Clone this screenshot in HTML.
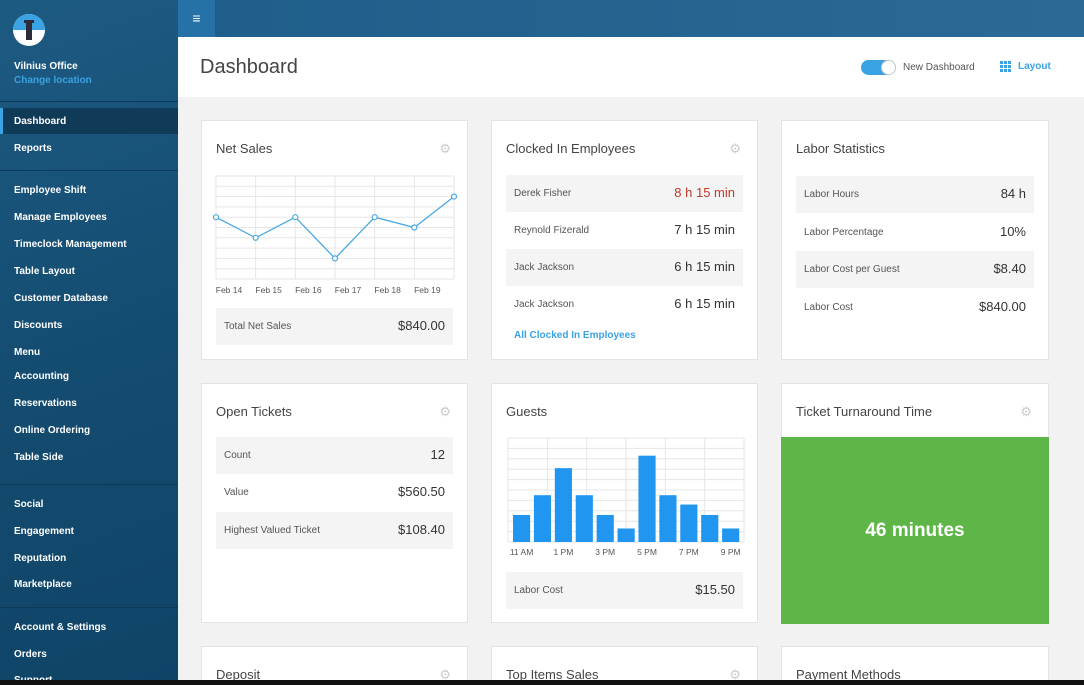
<!DOCTYPE html>
<html><head><meta charset="utf-8"><style>
*{margin:0;padding:0;box-sizing:border-box}
html,body{width:1084px;height:685px;overflow:hidden}
body{position:relative;font-family:"Liberation Sans",sans-serif;background:#f2f2f2}
.abs{position:absolute}
#side{left:0;top:0;width:178px;height:685px;background:linear-gradient(160deg,#1d5a82,#134a6e 60%,#0f4467)}
.nav{position:absolute;left:14px;font-size:10px;font-weight:bold;color:#fff;line-height:12px}
.div{position:absolute;left:0;width:178px;height:1px;background:#0d3a59}
.card{position:absolute;background:#fff;border:1px solid #e3e3e3}
.ct{position:absolute;left:14px;top:20px;font-size:13px;color:#444}
.gear{position:absolute;right:16px;top:20px;font-size:13px;color:#ccc}
.row{position:absolute;left:14px;right:14px;height:37px;font-size:10px;color:#555}
.row.g{background:#f4f4f4}
.row .l{position:absolute;left:8px;top:13px}
.row .r{position:absolute;right:8px;top:10px;font-size:13px;color:#333}
</style></head><body>
<div id="side" class="abs">
 <svg class="abs" style="left:13px;top:14px" width="32" height="32"><circle cx="16" cy="16" r="16" fill="#fff"/><path d="M0 16A16 16 0 0 1 32 16Z" fill="#3aa3e3"/><rect x="13" y="8" width="6" height="18" fill="#2b2b3a"/><rect x="11" y="6" width="10" height="3" fill="#2b2b3a"/></svg>
 <div class="nav" style="top:61px">Vilnius Office</div>
 <div class="nav" style="top:75px;color:#3aa3e3">Change location</div>
 <div class="div" style="top:101px"></div>
 <div class="abs" style="left:0;top:108px;width:178px;height:26px;background:#0f3a58"></div>
 <div class="abs" style="left:0;top:108px;width:3px;height:26px;background:#3aa3e3"></div>
 <div class="nav" style="top:116px">Dashboard</div>
 <div class="nav" style="top:143px">Reports</div>
 <div class="div" style="top:170px"></div>
 <div class="nav" style="top:185px">Employee Shift</div>
 <div class="nav" style="top:212px">Manage Employees</div>
 <div class="nav" style="top:239px">Timeclock Management</div>
 <div class="nav" style="top:266px">Table Layout</div>
 <div class="nav" style="top:293px">Customer Database</div>
 <div class="nav" style="top:320px">Discounts</div>
 <div class="nav" style="top:347px">Menu</div>
 <div class="nav" style="top:371px">Accounting</div>
 <div class="nav" style="top:398px">Reservations</div>
 <div class="nav" style="top:425px">Online Ordering</div>
 <div class="nav" style="top:452px">Table Side</div>
 <div class="div" style="top:484px"></div>
 <div class="nav" style="top:499px">Social</div>
 <div class="nav" style="top:526px">Engagement</div>
 <div class="nav" style="top:553px">Reputation</div>
 <div class="nav" style="top:579px">Marketplace</div>
 <div class="div" style="top:607px"></div>
 <div class="nav" style="top:622px">Account &amp; Settings</div>
 <div class="nav" style="top:649px">Orders</div>
 <div class="nav" style="top:675px">Support</div>
</div>
<div class="abs" style="left:178px;top:0;width:906px;height:37px;background:linear-gradient(90deg,#1f5e8a,#2a6a94)"></div>
<div class="abs" style="left:178px;top:0;width:37px;height:37px;background:#2672a6;color:#fff;font-size:14px;text-align:center;line-height:37px">≡</div>
<div class="abs" style="left:178px;top:37px;width:906px;height:60px;background:#fff"></div>
<div class="abs" style="left:200px;top:56px;font-size:20px;color:#444">Dashboard</div>
<div class="abs" style="left:861px;top:60px;width:35px;height:15px;border-radius:8px;background:#3aa3e3"><div class="abs" style="right:0;top:0;width:15px;height:15px;border-radius:50%;background:#fff;border:1px solid #ccc"></div></div>
<div class="abs" style="left:903px;top:62px;font-size:10px;color:#555">New Dashboard</div>
<svg class="abs" style="left:1000px;top:61px" width="12" height="12"><g fill="#3aa3e3"><rect x="0" y="0" width="3" height="3"/><rect x="4" y="0" width="3" height="3"/><rect x="8" y="0" width="3" height="3"/><rect x="0" y="4" width="3" height="3"/><rect x="4" y="4" width="3" height="3"/><rect x="8" y="4" width="3" height="3"/><rect x="0" y="8" width="3" height="3"/><rect x="4" y="8" width="3" height="3"/><rect x="8" y="8" width="3" height="3"/></g></svg>
<div class="abs" style="left:1018px;top:61px;font-size:10px;color:#3aa3e3;font-weight:bold">Layout</div>

<div class="card" style="left:201px;top:120px;width:267px;height:240px">
 <div class="ct">Net Sales</div><div class="gear">⚙</div>
 <svg id="line" class="abs" style="left:0;top:0" width="267" height="180"></svg>
 <div class="row g" style="top:187px"><span class="l">Total Net Sales</span><span class="r">$840.00</span></div>
</div>
<div class="card" style="left:491px;top:120px;width:267px;height:240px">
 <div class="ct">Clocked In Employees</div><div class="gear">⚙</div>
 <div class="row g" style="top:54px"><span class="l">Derek Fisher</span><span class="r" style="color:#c0392b">8 h 15 min</span></div>
 <div class="row" style="top:91px"><span class="l">Reynold Fizerald</span><span class="r">7 h 15 min</span></div>
 <div class="row g" style="top:128px"><span class="l">Jack Jackson</span><span class="r">6 h 15 min</span></div>
 <div class="row" style="top:165px"><span class="l">Jack Jackson</span><span class="r">6 h 15 min</span></div>
 <div class="abs" style="left:22px;top:209px;font-size:10px;font-weight:bold;color:#3aa3e3">All Clocked In Employees</div>
</div>
<div class="card" style="left:781px;top:120px;width:268px;height:240px">
 <div class="ct">Labor Statistics</div>
 <div class="row g" style="top:55px"><span class="l">Labor Hours</span><span class="r">84 h</span></div>
 <div class="row" style="top:93px"><span class="l">Labor Percentage</span><span class="r">10%</span></div>
 <div class="row g" style="top:130px"><span class="l">Labor Cost per Guest</span><span class="r">$8.40</span></div>
 <div class="row" style="top:168px"><span class="l">Labor Cost</span><span class="r">$840.00</span></div>
</div>
<div class="card" style="left:201px;top:383px;width:267px;height:240px">
 <div class="ct">Open Tickets</div><div class="gear">⚙</div>
 <div class="row g" style="top:53px"><span class="l">Count</span><span class="r">12</span></div>
 <div class="row" style="top:90px"><span class="l">Value</span><span class="r">$560.50</span></div>
 <div class="row g" style="top:128px"><span class="l">Highest Valued Ticket</span><span class="r">$108.40</span></div>
</div>
<div class="card" style="left:491px;top:383px;width:267px;height:240px">
 <div class="ct">Guests</div>
 <svg id="bars" class="abs" style="left:0;top:0" width="267" height="180"></svg>
 <div class="row g" style="top:188px"><span class="l">Labor Cost</span><span class="r">$15.50</span></div>
</div>
<div class="card" style="left:781px;top:383px;width:268px;height:240px">
 <div class="ct">Ticket Turnaround Time</div><div class="gear">⚙</div>
 <div class="abs" style="left:-1px;top:53px;width:268px;height:187px;background:#5fb648;color:#fff;font-size:19px;font-weight:bold;text-align:center;line-height:187px">46 minutes</div>
</div>
<div class="card" style="left:201px;top:646px;width:267px;height:34px;border-bottom:none"><div class="ct">Deposit</div><div class="gear">⚙</div></div>
<div class="card" style="left:491px;top:646px;width:267px;height:34px;border-bottom:none"><div class="ct">Top Items Sales</div><div class="gear">⚙</div></div>
<div class="card" style="left:781px;top:646px;width:268px;height:34px;border-bottom:none"><div class="ct">Payment Methods</div></div>
<div class="abs" style="left:0;top:680px;width:1084px;height:5px;background:#111"></div>

<script>
const salesDates=["Feb 14","Feb 15","Feb 16","Feb 17","Feb 18","Feb 19"];
const salesValues=[6,4,6,2,6,5,8];
const guestHours=["11 AM","","1 PM","","3 PM","","5 PM","","7 PM","","9 PM"];
const guestValues=[26,45,71,45,26,13,83,45,36,26,13];
const NS="http://www.w3.org/2000/svg";
function mk(p,t,a){const e=document.createElementNS(NS,t);for(const k in a)e.setAttribute(k,a[k]);p.appendChild(e);return e;}
(function(){
 const s=document.getElementById('line');
 const x0=14,x1=252,y0=55,y1=158,max=10;
 const xs=i=>x0+i*(x1-x0)/(salesValues.length-1);
 const ys=v=>y1-v/max*(y1-y0);
 for(let i=0;i<=10;i++){mk(s,'line',{x1:x0,x2:x1,y1:y0+i*(y1-y0)/10,y2:y0+i*(y1-y0)/10,stroke:'#e6e6e6'});}
 for(let i=0;i<salesValues.length;i++){mk(s,'line',{x1:xs(i),x2:xs(i),y1:y0,y2:y1,stroke:'#e6e6e6'});}
 const pl=mk(s,'polyline',{points:salesValues.map((v,i)=>xs(i)+','+ys(v)).join(' '),fill:'none',stroke:'#4aa8e0','stroke-width':1.3});
 
 
 salesValues.forEach((v,i)=>{const c=mk(s,'circle',{cx:xs(i),cy:ys(v),r:2.5,fill:'#fff',stroke:'#4aa8e0','stroke-width':1.2});
  
  });
 salesDates.forEach((d,i)=>{const t=mk(s,'text',{x:xs(i)+13,y:172,'font-size':8.5,fill:'#555','text-anchor':'middle','font-family':'Liberation Sans, sans-serif'});t.textContent=d;
  
  });
})();
(function(){
 const s=document.getElementById('bars');
 const x0=16,x1=252,y0=54,y1=158,max=100;
 const n=guestValues.length,step=(x1-x0-6)/n,bw=step*0.82;
 const ys=v=>y1-v/max*(y1-y0);
 for(let i=0;i<=10;i++)mk(s,'line',{x1:x0,x2:x1,y1:y0+i*(y1-y0)/10,y2:y0+i*(y1-y0)/10,stroke:'#e6e6e6'});
 for(let i=0;i<=6;i++)mk(s,'line',{x1:x0+i*(x1-x0)/6,x2:x0+i*(x1-x0)/6,y1:y0,y2:y1,stroke:'#e6e6e6'});
 guestValues.forEach((v,i)=>{const r=mk(s,'rect',{x:x0+5+i*step,y:ys(v),width:bw,height:y1-ys(v),fill:'#2196f0'});
  
  });
 guestHours.forEach((h,i)=>{if(!h)return;const t=mk(s,'text',{x:x0+5+i*step+bw/2,y:171,'font-size':8.5,fill:'#555','text-anchor':'middle','font-family':'Liberation Sans, sans-serif'});t.textContent=h;
  
  });
})();
</script>
</body></html>
